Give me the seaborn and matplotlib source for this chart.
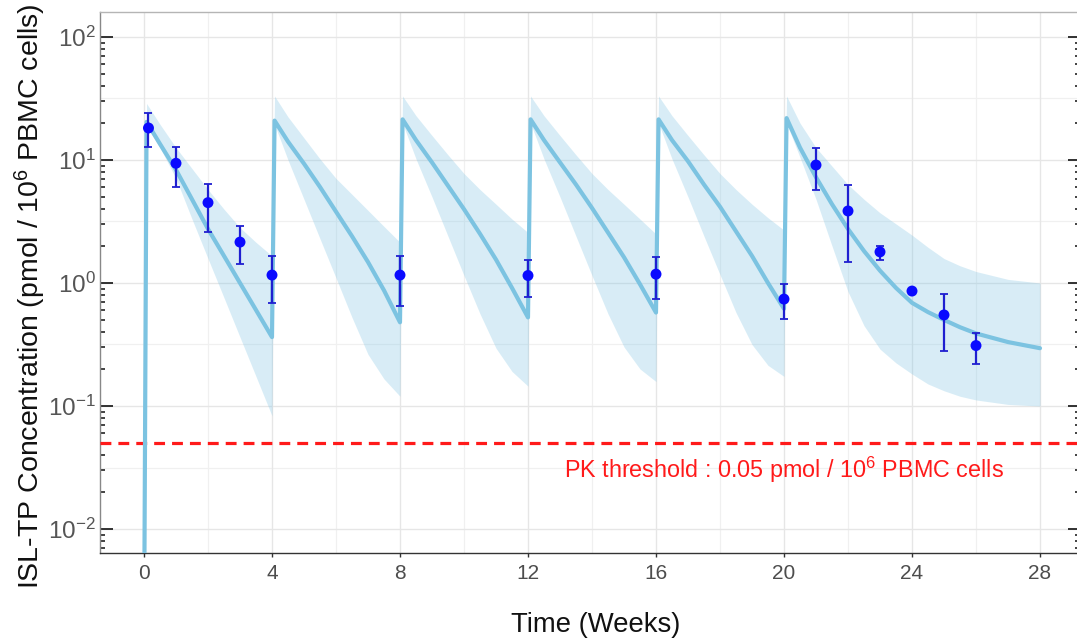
import matplotlib
matplotlib.use("Agg")
import matplotlib.pyplot as plt
import seaborn as sns
import pandas as pd
from matplotlib.ticker import FixedLocator, LogLocator, NullFormatter

# ---------------- data ----------------
time_weeks = [0, 0.08, 0.5, 1, 1.5, 2, 2.5, 3, 3.5, 4,
              4.08, 4.5, 5, 5.5, 6, 6.5, 7, 7.5, 8,
              8.08, 8.5, 9, 9.5, 10, 10.5, 11, 11.5, 12,
              12.08, 12.5, 13, 13.5, 14, 14.5, 15, 15.5, 16,
              16.08, 16.5, 17, 17.5, 18, 18.5, 19, 19.5, 20,
              20.08, 20.5, 21, 21.5, 22, 22.5, 23, 23.5, 24, 24.5, 25, 25.5, 26, 27, 28]

median_conc = [0.001, 20.4, 13.5, 8.32, 4.79, 2.75, 1.66, 1.0, 0.603, 0.363,
               20.9, 14.1, 9.33, 6.03, 3.80, 2.40, 1.48, 0.871, 0.479,
               21.4, 14.5, 9.55, 6.17, 3.98, 2.51, 1.55, 0.912, 0.525,
               21.4, 14.5, 9.55, 6.31, 4.07, 2.57, 1.62, 0.977, 0.575,
               21.4, 14.5, 9.77, 6.31, 4.17, 2.63, 1.66, 1.0, 0.617,
               21.9, 12.6, 7.24, 4.37, 2.75, 1.82, 1.26, 0.912, 0.69, 0.58, 0.501, 0.437, 0.389, 0.331, 0.295]

lower_conc = [0.001, 19.1, 12.6, 7.08, 3.31, 1.58, 0.759, 0.363, 0.174, 0.0832,
              19.5, 10.0, 4.79, 2.29, 1.10, 0.525, 0.263, 0.166, 0.120,
              19.95, 10.2, 5.01, 2.40, 1.15, 0.562, 0.295, 0.191, 0.145,
              19.95, 10.2, 5.01, 2.40, 1.15, 0.562, 0.302, 0.200, 0.158,
              19.95, 10.2, 5.01, 2.40, 1.17, 0.575, 0.316, 0.214, 0.174,
              19.95, 10.5, 4.79, 2.0, 0.85, 0.45, 0.29, 0.224, 0.182, 0.151, 0.133, 0.12, 0.112, 0.103, 0.100]

upper_conc = [0.001, 28.8, 19.5, 12.6, 8.51, 5.75, 3.98, 2.82, 2.14, 1.66,
              33.1, 22.4, 15.1, 10.2, 7.08, 5.25, 3.89, 2.88, 2.14,
              33.1, 22.9, 15.8, 11.0, 7.76, 5.75, 4.37, 3.31, 2.57,
              33.1, 22.9, 15.8, 11.0, 7.76, 5.75, 4.37, 3.31, 2.50,
              33.1, 22.9, 15.8, 11.0, 7.76, 5.75, 4.37, 3.39, 2.69,
              33.1, 19.95, 12.6, 8.91, 6.31, 4.79, 3.72, 3.02, 2.45, 1.95, 1.58, 1.38, 1.24, 1.07, 1.0]

obs_time = [0.14, 1, 2, 3, 4, 8, 12, 16, 20, 21, 22, 23, 24, 25, 26]
obs_mean = [18.2, 9.4, 4.5, 2.15, 1.16, 1.16, 1.15, 1.18, 0.74, 9.1, 3.85, 1.79, 0.86, 0.55, 0.31]
obs_low = [12.8, 6.0, 2.6, 1.43, 0.69, 0.65, 0.77, 0.74, 0.51, 5.7, 1.48, 1.53, 0.86, 0.28, 0.22]
obs_high = [24.0, 12.8, 6.4, 2.9, 1.66, 1.66, 1.54, 1.63, 0.98, 12.5, 6.3, 2.0, 0.86, 0.81, 0.39]

pk_threshold = 0.05
x_ticks = [0, 4, 8, 12, 16, 20, 24, 28]
y_ticks = [0.01, 0.1, 1, 10, 100]
y_tick_labels = ["$10^{-2}$", "$10^{-1}$", "$10^{0}$", "$10^{1}$", "$10^{2}$"]

# ---------------- styling ----------------
sns.set_theme(style="white")
plt.rcParams["font.family"] = ["Liberation Sans", "DejaVu Sans"]
plt.rcParams["mathtext.fontset"] = "custom"
plt.rcParams["mathtext.rm"] = "Liberation Sans"
plt.rcParams["mathtext.it"] = "Liberation Sans:italic"
plt.rcParams["mathtext.default"] = "regular"

W, H = 1077, 641
fig = plt.figure(figsize=(W / 100, H / 100), dpi=100)
ax = fig.add_axes([100 / W, 1 - 553 / H, (1080 - 100) / W, (553 - 12) / H])

sim = pd.DataFrame({"time": time_weeks, "median": median_conc,
                    "lower": lower_conc, "upper": upper_conc})
obs = pd.DataFrame({"time": obs_time, "mean": obs_mean,
                    "low": obs_low, "high": obs_high})

line_color = "#7cc3e1"
band_color = "#7ec3e3"

ax.fill_between(sim["time"], sim["lower"], sim["upper"], color=band_color,
                alpha=0.3, linewidth=0, zorder=2)
ax.axhline(pk_threshold, color="#ff1a1a", linewidth=2.3, dashes=(3.4, 2.2), zorder=3)
sns.lineplot(data=sim, x="time", y="median", ax=ax, color=line_color,
             linewidth=3.0, estimator=None, sort=False, zorder=4)
ax.errorbar(obs["time"], obs["mean"],
            yerr=[obs["mean"] - obs["low"], obs["high"] - obs["mean"]],
            fmt="none", ecolor="#1f1fd0", elinewidth=1.6, capsize=3.2,
            capthick=1.3, zorder=5)
sns.scatterplot(data=obs, x="time", y="mean", ax=ax, color="#0a0aff", s=62,
                edgecolor="none", zorder=6)

ax.set_yscale("log")
ax.set_xlim(-1.375, 29.25)
ax.set_ylim(10 ** -2.195, 10 ** 2.203)

ax.xaxis.set_major_locator(FixedLocator(x_ticks))
ax.xaxis.set_minor_locator(FixedLocator([-2, 2, 6, 10, 14, 18, 22, 26]))
ax.yaxis.set_major_locator(FixedLocator(y_ticks))
ax.set_yticklabels(y_tick_labels)
ax.yaxis.set_minor_locator(LogLocator(base=10, subs=(2, 3, 4, 5, 6, 7, 8, 9), numticks=20))
ax.yaxis.set_minor_formatter(NullFormatter())

# grid: major + half-decade minor lines
ax.grid(True, which="major", color="#e6e6e6", linewidth=1.0, zorder=0)
ax.grid(False, which="minor")
ax.set_axisbelow(True)
for v in [10 ** -1.5, 10 ** -0.5, 10 ** 0.5, 10 ** 1.5]:
    ax.axhline(v, color="#f0f0f0", linewidth=0.9, zorder=0)
for v in [-2, 2, 6, 10, 14, 18, 22, 26]:
    ax.axvline(v, color="#f0f0f0", linewidth=0.9, zorder=0)

ax.tick_params(axis="x", which="major", direction="out", length=3, width=1,
               color="#333333", labelsize=15, labelcolor="#4d4d4d", pad=5,
               bottom=True)
ax.tick_params(axis="x", which="minor", length=0)
ax.tick_params(axis="y", which="major", direction="in", length=9, width=1.3,
               color="#222222", labelsize=17.5, labelcolor="#555555", pad=3,
               left=True, right=True)
ax.tick_params(axis="y", which="minor", direction="in", length=3.5, width=1.2,
               color="#222222", left=True, right=True)

for side, col in [("left", "#888888"), ("bottom", "#333333"),
                  ("top", "#b5b5b5"), ("right", "#b5b5b5")]:
    ax.spines[side].set_color(col)
    ax.spines[side].set_linewidth(1.0)

ax.set_xlabel("")
ax.set_ylabel("")
fig.text(596 / W, 1 - 625 / H, "Time (Weeks)", ha="center", va="center",
         fontsize=19.8, color="#111111")
fig.text(30 / W, 1 - 296 / H, "ISL-TP Concentration (pmol / 10$^{6}$ PBMC cells)",
         rotation=90, ha="center", va="center", fontsize=20.5, color="#111111")

ax.text(20, 0.030, "PK threshold : 0.05 pmol / 10$^{6}$ PBMC cells", ha="center",
        va="center", fontsize=16.8, color="#ff1a1a", zorder=7)

fig.savefig("out.png", dpi=100)
